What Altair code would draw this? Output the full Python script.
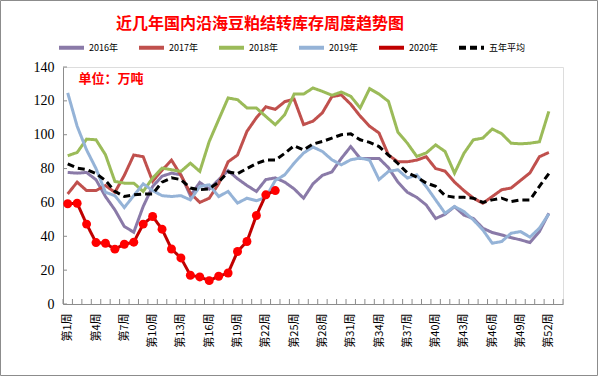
import altair as alt
import pandas as pd

weeks = list(range(1, 53))

s2016 = [77.7, 77.3, 77.7, 73.4, 63.5, 55.6, 45.8, 42.4, 57.6, 69.4, 75.5, 77.3, 76.3, 64, 71.8, 67.9,
         73.4, 78.8, 74, 70, 66.5, 73.5, 74.5, 72, 68, 62.5, 71, 76, 78, 86, 93, 86, 86, 86, 80.5, 72,
         66, 63, 58.5, 50.5, 53, 57.5, 52.5, 50.5, 44.8, 42.2, 40.8, 39.2, 37.9, 36.3, 42.8, 53.6]
s2017 = [65, 72, 67, 67, 70, 66, 76, 88, 87, 72.5, 79, 85, 76, 65.5, 60, 62.5, 71, 84, 88, 102, 110,
         116.5, 115, 119.5, 121, 106, 108, 113, 122.5, 123.5, 118, 111, 105, 101, 88, 84, 84, 85, 87,
         80, 78.5, 72, 67, 62.5, 59.5, 63.5, 67.5, 68.5, 73, 77.5, 87, 89.5]
s2018 = [87.6, 89.5, 97.4, 97, 88.2, 72.4, 71.4, 71.4, 66.5, 74.4, 80.3, 79.3, 78.3, 83.2, 78.3, 96,
         108.9, 121.7, 120.7, 115.8, 115.8, 110.8, 105.9, 111.8, 124, 124, 127.6, 125.6, 123.3, 125.2,
         122.7, 115.8, 127.2, 124, 119.7, 101.5, 95, 87.2, 89.2, 94, 90.1, 77.3, 89, 97, 98, 103.4,
         100.6, 95, 94.6, 95, 95.8, 113.8]
s2019 = [124.7, 105, 91, 80, 66, 64, 57, 64, 71, 67, 64, 63.5, 64, 61.5, 69.4, 70.4, 63.5, 66.5, 59.6,
         62.5, 61, 63, 73, 76.3, 83.2, 89.2, 92.7, 90.1, 85.2, 82.2, 85.2, 86.2, 85, 73.5, 78.3, 79.3,
         74.4, 76.3, 69.4, 61.5, 53.6, 57.6, 54.6, 49.7, 43.8, 35.9, 36.9, 41.8, 42.8, 39.5, 44.8, 53.2]
s2020 = [59.2, 59.5, 47.2, 36.3, 35.9, 32.4, 35.3, 36.5, 47.2, 51.7, 44.2, 32.5, 27.2, 17, 16, 13.8,
         16.4, 18.3, 31, 36.9, 52.3, 64.5, 67]
avg5 = [82.8, 80.3, 79.5, 77, 73, 66.5, 63.5, 64.5, 65, 65, 72, 74.5, 73.5, 68.5, 67.5, 68, 72, 78, 77,
        80, 83, 85, 85, 89, 93.5, 91, 94.5, 96, 98, 100, 100.5, 97, 95.5, 93, 88, 83, 77.5, 75, 71.5,
        69.5, 64, 63, 63, 62.5, 60, 61.5, 62.5, 60.5, 61.5, 61.5, 69.5, 77]

series_names = ["2016年", "2017年", "2018年", "2019年", "2020年", "五年平均"]
series_colors = ["#8a7aa8", "#c0504d", "#9bbb59", "#95b3d7", "#c00000", "#000000"]
series_dashes = [[1, 0], [1, 0], [1, 0], [1, 0], [1, 0], [7, 4]]
y_ticks = [0, 20, 40, 60, 80, 100, 120, 140]
x_label_weeks = list(range(1, 53, 3))
week_bounds = [k + 0.5 for k in range(0, 54)]

rows = []
for name, vals in zip(["2016年", "2017年", "2018年", "2019年", "五年平均"], [s2016, s2017, s2018, s2019, avg5]):
    for w, v in zip(weeks, vals):
        rows.append({"week": w, "value": v, "series": name})
df_base = pd.DataFrame(rows)
df_2020 = pd.DataFrame({"week": weeks[:len(s2020)], "value": s2020, "series": "2020年"})

W, H = 500, 237
axis_gray = "#8c8c8c"

x_scale = alt.Scale(domain=[0.5, 53.5], nice=False, zero=False)
y_scale = alt.Scale(domain=[0, 140], nice=False)

x_axis = alt.Axis(values=x_label_weeks, labelExpr="'第' + datum.value + '周'", labelAngle=270,
                  labelFont="Noto Sans CJK SC", labelFontSize=11, labelColor="#000000",
                  labelPadding=9, ticks=False, tickSize=0, grid=False, title=None,
                  domainColor=axis_gray, domainWidth=1)
y_axis = alt.Axis(values=y_ticks, labelFont="Liberation Serif", labelFontSize=14, labelColor="#000000",
                  labelPadding=9, ticks=False, tickSize=0, grid=False,
                  domainColor=axis_gray, domainWidth=1,
                  title="单位：万吨", titleAngle=0, titleX=15, titleY=11, titleAlign="left",
                  titleBaseline="middle", titleColor="#ff0000", titleFont="Noto Sans CJK SC",
                  titleFontSize=13, titleFontWeight="bold")

def X(field="week"):
    return alt.X(f"{field}:Q", scale=x_scale, axis=x_axis)

def Y(field="value"):
    return alt.Y(f"{field}:Q", scale=y_scale, axis=y_axis)

def make_legend():
    return alt.Legend(orient="none", legendX=-6, legendY=-34, direction="horizontal", columns=6,
                      symbolType="stroke", symbolSize=625, symbolStrokeWidth=4,
                      labelFont="Noto Sans CJK SC", labelFontSize=9, labelColor="#000000",
                      gridAlign="all", columnPadding=5, labelOffset=3, title=None)

color_enc = alt.Color("series:N", scale=alt.Scale(domain=series_names, range=series_colors),
                      legend=make_legend())
dash_enc = alt.StrokeDash("series:N", scale=alt.Scale(domain=series_names, range=series_dashes),
                          legend=make_legend())

base_lines = alt.Chart(df_base).mark_line(strokeWidth=3).encode(
    x=X(), y=Y(), color=color_enc, strokeDash=dash_enc, detail="series:N"
)
line_2020 = alt.Chart(df_2020).mark_line(strokeWidth=3).encode(
    x=X(), y=Y(), color=color_enc, strokeDash=dash_enc
)
pts_2020 = alt.Chart(df_2020).mark_point(filled=True, size=80, opacity=1, color="#ff0000").encode(
    x=X(), y=Y()
)

x_ticks = alt.Chart(pd.DataFrame({"week": week_bounds})).mark_rule(color=axis_gray, strokeWidth=1).encode(
    x=X(), y=alt.value(H), y2=alt.value(H - 5)
)
y_tick_marks = alt.Chart(pd.DataFrame({"value": y_ticks})).mark_rule(color=axis_gray, strokeWidth=1).encode(
    y=Y(), x=alt.value(0), x2=alt.value(4)
)
frame = alt.Chart(pd.DataFrame({"f": [0]})).mark_rect(fillOpacity=0, stroke=axis_gray, strokeWidth=1).encode(
    x=alt.value(-62.5), x2=alt.value(534.5), y=alt.value(-66.5), y2=alt.value(308.5)
)

chart = alt.layer(frame, x_ticks, y_tick_marks, base_lines, line_2020, pts_2020).properties(
    width=W, height=H,
    padding={"left": 63, "top": 67, "right": 35, "bottom": 72},
    autosize=alt.AutoSizeParams(type="none"),
    title=alt.TitleParams(text="近几年国内沿海豆粕结转库存周度趋势图", font="Noto Sans CJK SC",
                          fontSize=16, fontWeight="bold", color="#ff0000", anchor="middle",
                          frame="group", dx=-53, offset=-31.5),
).configure_view(stroke=None).configure(background="#ffffff")

chart.save("out.html", embed_options={"renderer": "svg", "actions": False})
